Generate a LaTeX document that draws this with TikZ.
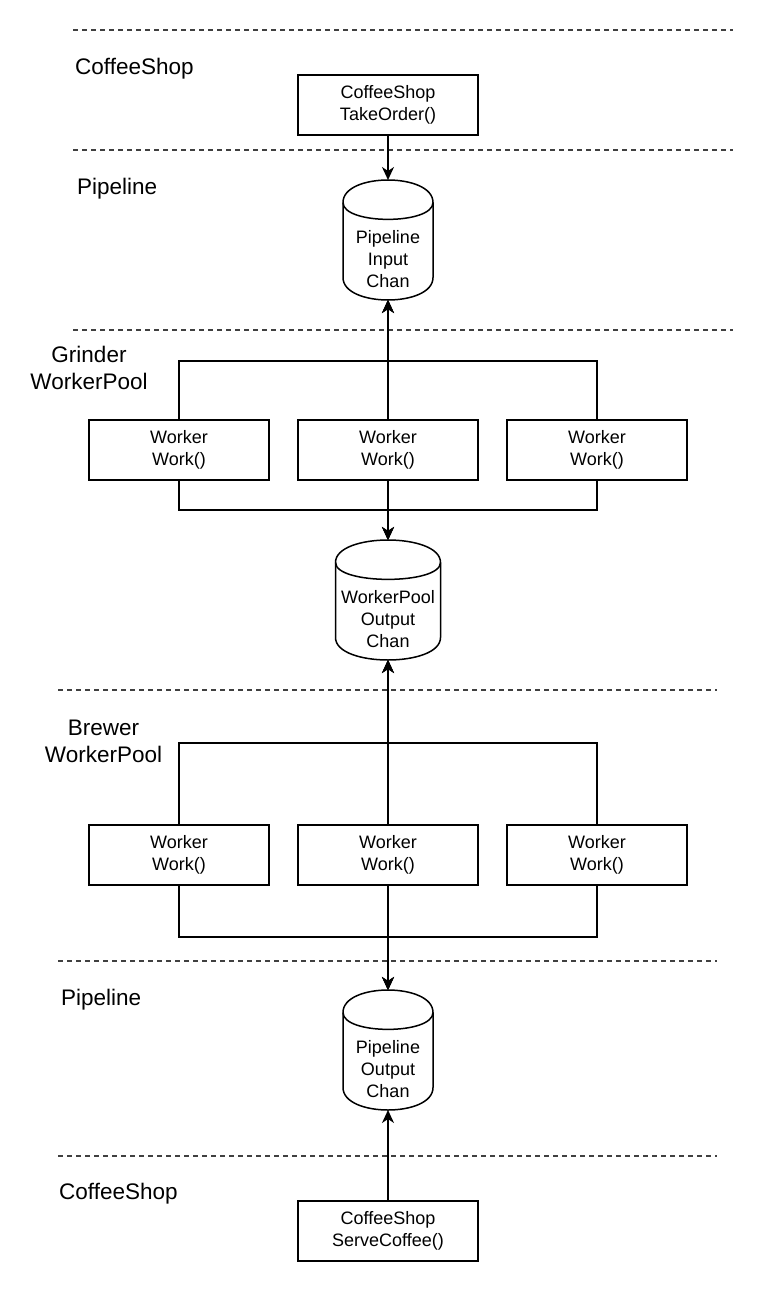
\documentclass[tikz,border=0pt]{standalone}
\usepackage{fontspec}
\setmainfont{Liberation Sans}
\usetikzlibrary{arrows.meta,calc}
\newcommand\drawcyl[7]{%
  \node[cylbox, minimum width=#4pt, minimum height=#5pt] (#1) at (#2,{-(#3)-(#5)/2}) {};
  \draw[ln] ($(#1.north west)+(0,-22.5)$) .. controls ($(#1.north west)+(0,7.5)$) and ($(#1.north east)+(0,7.5)$) .. ($(#1.north east)+(0,-22.5)$)
     -- ($(#1.south east)+(0,22.5)$) .. controls ($(#1.south east)+(0,-7.5)$) and ($(#1.south west)+(0,-7.5)$) .. ($(#1.south west)+(0,22.5)$) -- cycle;
  \draw[ln] ($(#1.north west)+(0,-22.5)$) .. controls ($(#1.north west)+(0,-45)$) and ($(#1.north east)+(0,-45)$) .. ($(#1.north east)+(0,-22.5)$);
  \node[celltext] (#6) at ($(#1.center)+(0,-19)$) {#7};
}
\begin{document}
\begin{tikzpicture}[x=1pt,y=1pt,
  ln/.style={line width=1.5pt, draw=black},
  dline/.style={line width=1.5pt, draw=black!75, dash pattern=on 4.5pt off 4.5pt},
  box/.style={ln, rectangle, minimum width=180pt, minimum height=60pt, inner sep=0pt, outer sep=0pt, align=center, font=\fontsize{18}{21.6}\selectfont, execute at begin node=\rule{0pt}{16.8pt}},
  cylbox/.style={rectangle, inner sep=0pt, outer sep=0pt},
  celltext/.style={align=center, inner sep=0pt, font=\fontsize{18}{21.6}\selectfont},
  lbl/.style={inner sep=0pt, font=\fontsize{22.5}{27}\selectfont, align=center},
  arr/.style={ln, -{Stealth[length=13pt,width=12pt,inset=4pt]}},
]
\fill[white] (0,0) rectangle (767,-1292);
\useasboundingbox (0,0) rectangle (767,-1292);

% lane separators
\draw[dline] (73,-30) -- (733,-30);
\draw[dline] (73,-150) -- (733,-150);
\draw[dline] (73,-330) -- (733,-330);
\draw[dline] (58,-690) -- (717,-690);
\draw[dline] (58,-961) -- (717,-961);
\draw[dline] (58,-1156) -- (717,-1156);

% lane labels
\node[lbl, anchor=base west] (lcs1) at (75,-75) {CoffeeShop};
\node[lbl, anchor=base west] (lpl1) at (77,-195) {Pipeline};
\node[lbl, anchor=north] (lgr) at (89,-345.6) {Grinder\\WorkerPool};
\node[lbl, anchor=north] (lbr) at (103.5,-720) {Brewer\\WorkerPool};
\node[lbl, anchor=base west] (lpl2) at (61,-1005) {Pipeline};
\node[lbl, anchor=base west] (lcs2) at (59,-1199) {CoffeeShop};

% nodes
\node[box] (take) at (388,-105) {CoffeeShop\\TakeOrder()};
\drawcyl{inchan}{388}{180}{90}{120}{inchant}{Pipeline\\Input\\Chan}
\node[box] (g1) at (179,-450) {Worker\\Work()};
\node[box] (g2) at (388,-450) {Worker\\Work()};
\node[box] (g3) at (597,-450) {Worker\\Work()};
\coordinate (gtop) at (388,-361);
\coordinate (gbot) at (388,-510);
\drawcyl{wpchan}{388}{540}{105}{120}{wpchant}{WorkerPool\\Output\\Chan}
\node[box] (b1) at (179,-855) {Worker\\Work()};
\node[box] (b2) at (388,-855) {Worker\\Work()};
\node[box] (b3) at (597,-855) {Worker\\Work()};
\coordinate (btop) at (388,-743);
\coordinate (bbot) at (388,-937);
\drawcyl{outchan}{388}{990}{90}{120}{outchant}{Pipeline\\Output\\Chan}
\node[box] (serve) at (388,-1231) {CoffeeShop\\ServeCoffee()};

% connectors
\draw[arr] (take.south) -- (inchan.north);
\draw[arr] (g1.north) |- (gtop) -- (inchan.south);
\draw[arr] (g2.north) -- (inchan.south);
\draw[arr] (g3.north) |- (gtop) -- (inchan.south);
\draw[arr] (g1.south) |- (gbot) -- (wpchan.north);
\draw[arr] (g2.south) -- (wpchan.north);
\draw[arr] (g3.south) |- (gbot) -- (wpchan.north);
\draw[arr] (b1.north) |- (btop) -- (wpchan.south);
\draw[arr] (b2.north) -- (wpchan.south);
\draw[arr] (b3.north) |- (btop) -- (wpchan.south);
\draw[arr] (b1.south) |- (bbot) -- (outchan.north);
\draw[arr] (b2.south) -- (outchan.north);
\draw[arr] (b3.south) |- (bbot) -- (outchan.north);
\draw[arr] (serve.north) -- (outchan.south);
\end{tikzpicture}
\end{document}
